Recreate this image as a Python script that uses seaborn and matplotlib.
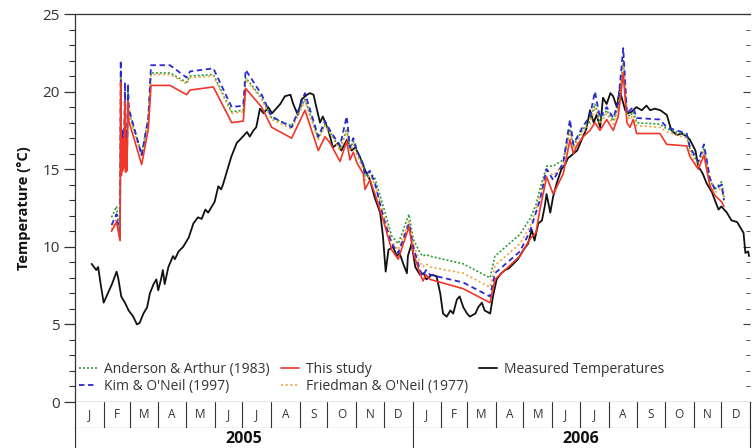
import numpy as np
import pandas as pd
import matplotlib
matplotlib.use("Agg")
import matplotlib.pyplot as plt
from matplotlib.ticker import MultipleLocator
import seaborn as sns

# ---- measured water temperature (days since 2005-01-01, degC) ----
meas_day = [18, 23, 25, 28, 31, 34, 40, 45, 47, 50, 54, 58, 63, 67, 70, 74, 78, 81, 85,
            88, 90, 93, 95, 97, 101, 106, 108, 112, 117, 123, 128, 133, 137, 141, 144,
            148, 151, 155, 158, 160, 164, 169, 175, 180, 186, 189, 193, 196, 200, 204,
            209, 213, 216, 222, 227, 233, 236, 241, 245, 251, 254, 258, 261, 265, 268,
            274, 279, 285, 288, 294, 299, 303, 308, 314, 319, 324, 330, 333, 336, 339,
            344, 348, 351, 355, 359, 360, 364, 368, 373, 377, 380, 386, 391, 395, 398,
            402, 406, 409, 413, 416, 420, 424, 427, 433, 436, 440, 443, 449, 452, 456,
            461, 465, 469, 474, 479, 485, 490, 494, 497, 501, 505, 508, 510, 514, 517,
            521, 526, 530, 533, 539, 543, 548, 553, 557, 561, 564, 568, 571, 575, 579,
            582, 586, 589, 595, 598, 602, 607, 613, 618, 622, 627, 633, 640, 645, 651,
            656, 662, 665, 671, 674, 679, 683, 689, 692, 696, 699, 705, 710, 716, 719,
            723, 725, 728, 729]
meas_temp = [8.9, 8.5, 8.7, 7.5, 6.4, 6.8, 7.6, 8.4, 7.9, 6.8, 6.4, 5.9, 5.5, 5.0, 5.1,
             5.7, 6.1, 7.0, 7.6, 7.9, 7.2, 7.9, 8.5, 7.6, 8.7, 9.4, 9.2, 9.7, 10.0, 10.6,
             11.5, 11.9, 11.8, 12.4, 12.2, 12.6, 12.9, 13.9, 13.7, 14.0, 14.8, 15.8, 16.7,
             17.0, 17.4, 17.1, 17.5, 17.7, 18.9, 18.6, 19.0, 18.6, 18.8, 19.2, 19.7, 19.8,
             19.2, 18.5, 19.5, 19.8, 19.9, 19.8, 19.0, 18.0, 18.4, 17.5, 16.4, 16.7, 16.2,
             16.9, 16.2, 16.4, 15.8, 14.9, 14.3, 13.2, 12.2, 10.7, 8.4, 9.8, 10.0, 9.4,
             9.6, 8.9, 8.3, 9.4, 10.2, 8.7, 8.2, 8.3, 7.9, 8.2, 8.1, 7.0, 5.7, 5.5, 5.9,
             5.7, 6.6, 6.8, 6.1, 5.7, 5.5, 5.7, 6.1, 6.4, 5.9, 5.7, 6.8, 7.9, 8.3, 8.5,
             8.6, 8.9, 9.2, 9.8, 10.2, 11.1, 10.4, 11.5, 11.7, 12.6, 13.4, 12.2, 13.2,
             14.1, 15.0, 15.3, 15.7, 16.0, 16.2, 16.9, 17.6, 18.8, 18.0, 18.5, 17.7, 19.6,
             19.2, 19.9, 19.7, 19.0, 20.1, 18.8, 18.6, 18.7, 19.0, 18.8, 19.1, 18.8, 18.9,
             18.8, 18.5, 17.5, 17.2, 17.3, 17.1, 16.9, 16.2, 15.2, 14.7, 14.1, 13.5, 13.0,
             12.4, 12.6, 12.2, 11.7, 11.6, 11.3, 10.9, 9.6, 9.7, 9.4]

# ---- shell-derived temperatures (days since 2005-01-01, degC) ----
shell_day = [39.5, 44.9, 48.7, 49.5, 50.2, 50.8, 51.5, 52.1, 52.8, 53.4, 54.1, 54.7, 55.5,
             56.2, 57.3, 58.2, 72.1, 79.3, 82.2, 102.7, 120.8, 124.4, 149.6, 169.5, 182.0,
             184.6, 201.9, 212.7, 234.3, 248.7, 263.1, 270.4, 275.8, 286.6, 293.8, 297.4,
             301.0, 305.0, 311.8, 313.6, 319.0, 324.4, 333.4, 342.5, 349.6, 361.2, 365.8,
             373.1, 376.3, 379.6, 383.9, 419.9, 448.8, 454.2, 481.2, 492.0, 498.5, 502.8,
             510.1, 517.2, 528.0, 535.3, 538.9, 542.5, 549.7, 556.9, 562.3, 567.7, 575.0,
             582.1, 587.5, 592.9, 596.9, 600.2, 603.7, 607.4, 632.6, 639.9, 661.5, 665.1,
             674.1, 680.2, 686.7, 692.1, 699.3, 701.8]
this_study = [11.0, 11.6, 10.4, 20.6, 14.6, 16.8, 14.9, 17.0, 15.1, 17.2, 19.3, 14.8, 16.9,
              14.9, 19.4, 18.1, 15.3, 17.6, 20.4, 20.4, 19.8, 20.1, 20.3, 18.0, 18.1, 20.2,
              19.0, 17.7, 17.0, 18.8, 16.2, 17.1, 16.7, 15.5, 16.8, 15.6, 16.1, 15.4, 14.7,
              13.7, 14.3, 13.4, 11.7, 9.8, 9.2, 11.3, 9.6, 8.3, 7.8, 8.2, 7.9, 7.3, 6.4,
              7.9, 9.4, 10.5, 10.9, 12.4, 14.5, 13.4, 14.7, 16.9, 16.0, 16.5, 17.1, 17.5,
              18.0, 17.5, 18.2, 17.5, 18.4, 21.2, 18.0, 17.7, 18.2, 17.3, 17.3, 16.6, 16.5,
              15.8, 15.0, 15.9, 13.9, 13.3, 12.9, 12.6]
kim_oneil = [11.4, 12.1, 10.5, 22.0, 15.0, 17.4, 15.3, 17.5, 15.5, 17.7, 20.6, 15.3, 17.5,
             15.4, 20.5, 18.9, 15.9, 18.3, 21.7, 21.7, 20.9, 21.3, 21.5, 19.0, 19.1, 21.4,
             19.8, 18.4, 17.7, 19.9, 17.1, 18.1, 17.5, 16.5, 18.4, 16.4, 17.0, 16.2, 15.3,
             14.6, 14.9, 14.1, 11.9, 10.2, 9.6, 11.5, 10.0, 8.5, 8.1, 8.5, 8.2, 7.7, 6.8,
             8.3, 9.7, 11.0, 12.2, 13.0, 15.0, 14.3, 15.4, 18.2, 16.6, 17.0, 17.8, 18.4,
             20.0, 18.3, 19.0, 18.3, 19.3, 22.8, 18.6, 18.8, 19.0, 18.3, 18.2, 17.7, 17.3,
             16.4, 15.5, 16.6, 14.4, 13.7, 14.0, 13.0]
anderson_arthur = [11.9, 12.6, 10.6, 21.3, 15.1, 17.2, 15.2, 17.3, 15.4, 17.5, 20.0, 15.2,
                   17.3, 15.3, 20.0, 18.7, 16.0, 18.3, 21.2, 21.2, 20.6, 21.0, 21.1, 18.7,
                   18.8, 20.9, 19.6, 18.3, 17.8, 19.5, 17.0, 17.9, 17.4, 16.3, 17.6, 16.3,
                   16.8, 16.1, 15.2, 14.5, 14.8, 14.4, 12.6, 10.7, 10.2, 12.1, 10.5, 9.6,
                   9.4, 9.5, 9.4, 8.9, 8.0, 9.4, 10.8, 11.8, 12.7, 13.7, 15.2, 15.2, 15.6,
                   17.6, 16.5, 16.9, 17.6, 18.1, 19.2, 18.1, 18.8, 18.1, 19.0, 22.0, 18.6,
                   18.4, 18.7, 18.0, 17.9, 17.6, 17.2, 16.3, 15.4, 16.3, 14.3, 13.7, 14.2,
                   13.2]
friedman_oneil = [11.1, 11.8, 10.4, 21.1, 14.8, 17.0, 15.0, 17.1, 15.2, 17.3, 19.8, 15.0,
                  17.1, 15.1, 19.7, 18.5, 15.8, 18.1, 21.1, 21.1, 20.5, 20.9, 21.0, 18.6,
                  18.7, 20.8, 19.5, 18.2, 17.6, 19.4, 16.9, 17.8, 17.3, 16.2, 17.5, 16.2,
                  16.6, 15.9, 15.0, 14.3, 14.6, 14.0, 12.2, 10.4, 9.8, 11.7, 10.2, 9.0, 8.7,
                  8.9, 8.7, 8.3, 7.4, 8.8, 10.2, 11.3, 12.4, 13.2, 15.0, 14.6, 15.3, 17.4,
                  16.3, 16.7, 17.4, 17.9, 19.0, 17.9, 18.6, 17.9, 18.9, 21.8, 18.4, 18.2,
                  18.5, 17.8, 17.7, 17.4, 17.0, 16.1, 15.2, 16.2, 14.1, 13.5, 13.8, 13.0]

month_labels = ["J", "F", "M", "A", "M", "J", "J", "A", "S", "O", "N", "D"]
years = [2005, 2006]

# ---- assemble tables ----
origin = pd.Timestamp("2005-01-01")
meas = pd.DataFrame({"date": origin + pd.to_timedelta(meas_day, unit="D"),
                     "temp": meas_temp})
shell = pd.DataFrame({"date": origin + pd.to_timedelta(shell_day, unit="D"),
                      "This study": this_study,
                      "Kim & O'Neil (1997)": kim_oneil,
                      "Anderson & Arthur (1983)": anderson_arthur,
                      "Friedman & O'Neil (1977)": friedman_oneil})

sns.set_style("ticks")
plt.rcParams["font.family"] = ["Open Sans", "DejaVu Sans"]
ink = "#333333"

W, H = 752, 448
fig = plt.figure(figsize=(W / 100, H / 100), dpi=100)
x0, x1 = 75, 750
ax = fig.add_axes([x0 / W, (H - 402) / H, (x1 - x0) / W, (402 - 14) / H])

sns.lineplot(data=meas, x="date", y="temp", ax=ax, color="#111111", lw=1.3,
             label="Measured Temperatures", estimator=None, sort=False)
styles = {
    "Anderson & Arthur (1983)": dict(color="#2e9e3a", ls=(0, (1.2, 1.2)), lw=1.2),
    "Friedman & O'Neil (1977)": dict(color="#eda33a", ls=(0, (1.2, 1.6)), lw=1.2),
    "Kim & O'Neil (1997)": dict(color="#2a2ad0", ls=(0, (3, 2)), lw=1.3),
    "This study": dict(color="#f0362a", ls="-", lw=1.2),
}
for name, st in styles.items():
    sns.lineplot(data=shell, x="date", y=name, ax=ax, color=st["color"],
                 linestyle=st["ls"], lw=st["lw"], label=name,
                 estimator=None, sort=False)

start = pd.Timestamp("2005-01-01")
end = pd.Timestamp("2007-01-01")
ax.set_xlim(start, end)
ax.set_ylim(0, 25)
ax.yaxis.set_major_locator(MultipleLocator(5))
ax.yaxis.set_minor_locator(MultipleLocator(1))
ax.tick_params(axis="y", which="major", length=8, width=0.9, color=ink,
               labelsize=11, labelcolor=ink, pad=3)
ax.tick_params(axis="y", which="minor", length=4, width=0.8, color=ink)
ax.tick_params(axis="x", which="both", bottom=False, labelbottom=False)
ax.set_xlabel("")
ax.set_ylabel("Temperature (\u00b0C)", fontsize=10.5, fontweight="bold",
              color="#111111", labelpad=8)
for side in ["left", "top", "bottom"]:
    ax.spines[side].set_color(ink)
    ax.spines[side].set_linewidth(0.9)
ax.spines["right"].set_visible(False)

# inward ticks along the right edge
sec = ax.secondary_yaxis("right")
sec.yaxis.set_major_locator(MultipleLocator(5))
sec.yaxis.set_minor_locator(MultipleLocator(1))
sec.tick_params(which="both", direction="in", labelright=False, color=ink)
sec.tick_params(which="major", length=5)
sec.tick_params(which="minor", length=3)
sec.spines["right"].set_visible(False)

# legend: three columns, filled column by column
handles, labels = ax.get_legend_handles_labels()
lookup = dict(zip(labels, handles))
order = ["Anderson & Arthur (1983)", "Kim & O'Neil (1997)", "This study",
         "Friedman & O'Neil (1977)", "Measured Temperatures"]
ax.legend([lookup[k] for k in order], order, ncol=3, loc="lower left",
          bbox_to_anchor=(0.004, 0.018), frameon=False, fontsize=10,
          handlelength=1.3, handletextpad=0.5, columnspacing=0.8,
          labelspacing=0.12, borderpad=0.1, borderaxespad=0.0,
          labelcolor=ink)

# month strip
axm = fig.add_axes([x0 / W, (H - 428) / H, (x1 - x0) / W, 26 / H])
axm.set_xlim(start, end)
axm.set_ylim(0, 1)
months = pd.date_range(start, end, freq="MS")
for m in months:
    axm.axvline(m, color=ink, lw=0.8)
for i, m in enumerate(months[:-1]):
    mid = m + (months[i + 1] - m) / 2
    axm.text(mid, 0.52, month_labels[m.month - 1], ha="center", va="center",
             fontsize=8.5, color=ink)
axm.set_xticks([])
axm.set_yticks([])
for side in axm.spines.values():
    side.set_color(ink)
    side.set_linewidth(0.8)
axm.spines["top"].set_visible(False)

# year strip
axy = fig.add_axes([x0 / W, (H - 460) / H, (x1 - x0) / W, 32 / H])
axy.set_xlim(start, end)
axy.set_ylim(0, 1)
for yr in years:
    y_start = pd.Timestamp(f"{yr}-01-01")
    y_end = pd.Timestamp(f"{yr + 1}-01-01")
    axy.axvline(y_start, color=ink, lw=0.8)
    axy.text(y_start + (y_end - y_start) / 2, 0.66, str(yr), ha="center",
             va="center", fontsize=11.5, fontweight="bold", color="#111111")
axy.set_xticks([])
axy.set_yticks([])
for side in axy.spines.values():
    side.set_color(ink)
    side.set_linewidth(0.8)
axy.spines["top"].set_visible(False)

fig.savefig("out.png", dpi=100)
